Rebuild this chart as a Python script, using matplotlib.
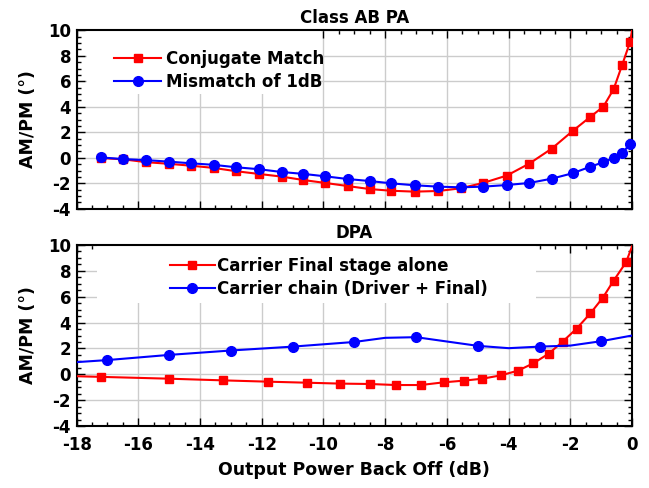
import matplotlib
matplotlib.use('Agg')
import matplotlib.pyplot as plt
from matplotlib.ticker import MultipleLocator
from matplotlib.patches import Rectangle

# Class AB PA (top panel)
ab_x = [-17.2, -16.48, -15.74, -15.0, -14.28, -13.56, -12.83, -12.1, -11.36, -10.65,
        -9.94, -9.22, -8.5, -7.8, -7.05, -6.28, -5.56, -4.83, -4.06, -3.33,
        -2.6, -1.93, -1.37, -0.93, -0.6, -0.32, -0.07]
conj_match = [-0.02, -0.12, -0.34, -0.47, -0.62, -0.79, -1.05, -1.26, -1.47, -1.74,
              -1.97, -2.21, -2.45, -2.58, -2.65, -2.6, -2.39, -1.97, -1.39, -0.45,
              0.73, 2.1, 3.18, 4.02, 5.38, 7.3, 9.06]
conj_end = (0.0, 10.0)
mismatch = [0.03, -0.1, -0.18, -0.3, -0.43, -0.55, -0.74, -0.89, -1.11, -1.26,
            -1.45, -1.66, -1.82, -2.0, -2.15, -2.26, -2.31, -2.26, -2.13, -1.97,
            -1.63, -1.21, -0.71, -0.34, 0.0, 0.39, 1.05]

# DPA (bottom panel)
final_x = [-18.0, -17.2, -15.0, -13.25, -11.8, -10.55, -9.45, -8.5, -7.65, -6.85, -6.1,
           -5.45, -4.85, -4.25, -3.7, -3.2, -2.7, -2.25, -1.8, -1.35, -0.95,
           -0.6, -0.2, 0.0]
final_y = [-0.15, -0.2, -0.34, -0.47, -0.57, -0.65, -0.72, -0.75, -0.83, -0.83, -0.62,
           -0.49, -0.34, -0.08, 0.28, 0.85, 1.6, 2.53, 3.53, 4.72, 5.92,
           7.24, 8.65, 9.9]
chain_x = [-18, -17, -15, -13, -11, -9, -8, -7, -5, -4, -3, -2, -1, 0]
chain_y = [0.94, 1.1, 1.5, 1.84, 2.14, 2.5, 2.82, 2.87, 2.2, 2.02, 2.14, 2.22, 2.56, 3.0]

titles = ['Class AB PA', 'DPA']
xlabel = 'Output Power Back Off (dB)'
ylabel = 'AM/PM (°)'

plt.rcParams['font.family'] = 'DejaVu Sans'
plt.rcParams['font.weight'] = 'bold'
plt.rcParams['axes.unicode_minus'] = False

fig = plt.figure(figsize=(6.49, 4.88), dpi=100)
ax1 = fig.add_axes([0.118, 0.572, 0.856, 0.366])
ax2 = fig.add_axes([0.118, 0.127, 0.856, 0.371])

red = '#ff0000'
blue = '#0000ff'


def style(ax, title, box):
    ax.set_xlim(-18, 0)
    ax.set_ylim(-4, 10)
    ax.xaxis.set_major_locator(MultipleLocator(2))
    ax.xaxis.set_minor_locator(MultipleLocator(0.5))
    ax.yaxis.set_major_locator(MultipleLocator(2))
    ax.yaxis.set_minor_locator(MultipleLocator(0.5))
    ax.tick_params(which='both', direction='in', top=True, right=True,
                   labelsize=12, width=1.0)
    ax.tick_params(which='major', length=6, pad=4)
    ax.tick_params(axis='x', which='major', pad=7)
    ax.tick_params(which='minor', length=3)
    ax.grid(True, which='major', color='#cccccc', linewidth=1.0)
    for s in ax.spines.values():
        s.set_linewidth(1.5)
    ax.set_title(title, fontsize=12, fontweight='bold', pad=5)
    ax.set_ylabel(ylabel, fontsize=12.5, fontweight='bold', labelpad=8)
    # white area behind the legend, hides the grid there
    x0, y0, x1, y1 = box
    ax.add_patch(Rectangle((x0, y0), x1 - x0, y1 - y0, transform=ax.transAxes,
                           facecolor='white', edgecolor='none', zorder=1.8))


style(ax1, titles[0], (0.018, 0.645, 0.44, 0.995))
style(ax2, titles[1], (0.036, 0.68, 0.827, 0.995))

# top panel
ax1.plot(list(ab_x) + [conj_end[0]], list(conj_match) + [conj_end[1]], color=red,
         lw=1.5, marker='s', ms=5.5, markevery=list(range(len(ab_x))),
         label='Conjugate Match', zorder=3)
ax1.plot(ab_x, mismatch, color=blue, lw=1.5, marker='o', ms=7,
         label='Mismatch of 1dB', zorder=3, clip_on=False)
ax1.tick_params(labelbottom=False)
ax1.legend(loc='upper left', bbox_to_anchor=(0.053, 0.935), borderaxespad=0,
           frameon=False, handlelength=2.8, handletextpad=0.3,
           labelspacing=0.3, borderpad=0.5, prop={'weight': 'bold', 'size': 12})

# bottom panel
ax2.plot(final_x, final_y, color=red, lw=1.5, marker='s', ms=5.5,
         markevery=list(range(1, len(final_x) - 1)),
         label='Carrier Final stage alone', zorder=3)
odd = [i for i, v in enumerate(chain_x) if v % 2 != 0]
ax2.plot(chain_x, chain_y, color=blue, lw=1.5, marker='o', ms=7, markevery=odd,
         label='Carrier chain (Driver + Final)', zorder=3)
ax2.legend(loc='upper left', bbox_to_anchor=(0.153, 0.98), borderaxespad=0,
           frameon=False, handlelength=2.7, handletextpad=0.1,
           labelspacing=0.3, borderpad=0.5, prop={'weight': 'bold', 'size': 12})
ax2.set_xlabel(xlabel, fontsize=12.5, fontweight='bold', labelpad=5)

fig.savefig('out.png', dpi=100)
